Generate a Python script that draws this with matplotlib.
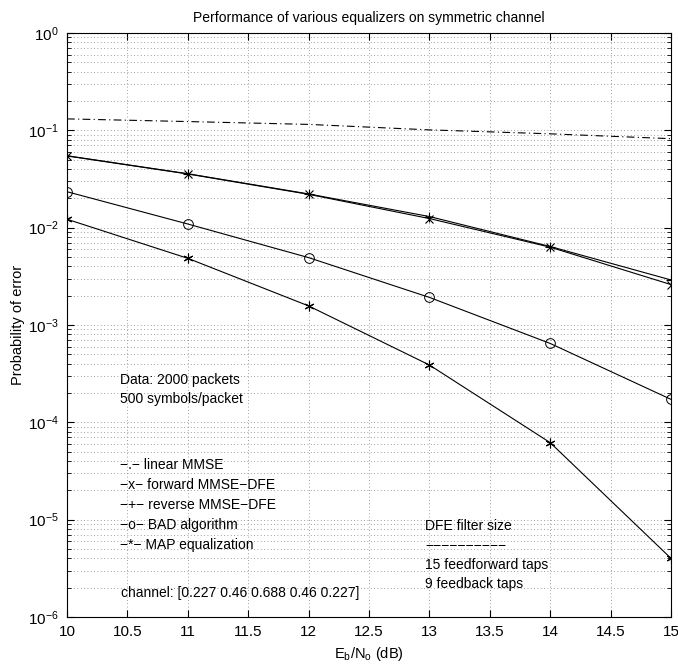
import numpy as np
import matplotlib
matplotlib.use("Agg")
import matplotlib.pyplot as plt
from matplotlib.ticker import LogLocator, FormatStrFormatter, MultipleLocator, NullFormatter

plt.rcParams["font.family"] = ["Liberation Sans", "DejaVu Sans"]
plt.rcParams["font.size"] = 10
plt.rcParams["mathtext.fontset"] = "custom"
plt.rcParams["mathtext.rm"] = "Liberation Sans"

# ----- data -----
ebno = [10, 11, 12, 13, 14, 15]
linear_mmse = [0.131, 0.123, 0.115, 0.101, 0.092, 0.082]
fwd_dfe = [0.0545, 0.0356, 0.0220, 0.0124, 0.0063, 0.0026]
rev_dfe = [0.0548, 0.0358, 0.0222, 0.0130, 0.0064, 0.0029]
bad_alg = [0.0234, 0.0109, 0.00492, 0.00192, 0.000646, 0.000172]
map_eq = [0.0122, 0.00484, 0.00157, 0.000388, 0.0000618, 0.0000040]

legend_lines = ["\u2212.\u2212 linear MMSE", "\u2212x\u2212 forward MMSE\u2212DFE",
                "\u2212+\u2212 reverse MMSE\u2212DFE", "\u2212o\u2212 BAD algorithm",
                "\u2212*\u2212 MAP equalization"]

fig = plt.figure(figsize=(6.78, 6.66), dpi=100)
ax = fig.add_axes([0.0988, 0.0736, 0.8909, 0.8769])

asterisk = (6, 2, 0)
ax.semilogy(ebno, linear_mmse, "k", ls=(0, (7, 3, 1, 3)), lw=0.8)
ax.semilogy(ebno, fwd_dfe, "k-", marker="x", ms=6, mew=0.8, lw=0.8)
ax.semilogy(ebno, rev_dfe, "k-", marker="+", ms=7, mew=0.8, lw=0.8)
ax.semilogy(ebno, bad_alg, "k-", marker="o", mfc="none", ms=7, mew=0.7, lw=0.8)
ax.semilogy(ebno, map_eq, "k-", marker=asterisk, ms=7, mew=0.8, lw=0.8)

ax.set_xlim(10, 15)
ax.set_ylim(1e-6, 1)
ax.xaxis.set_major_locator(MultipleLocator(0.5))
ax.xaxis.set_major_formatter(FormatStrFormatter("%g"))
ax.yaxis.set_major_locator(LogLocator(base=10, numticks=10))
ax.yaxis.set_minor_locator(LogLocator(base=10, subs=np.arange(2, 10), numticks=20))
ax.yaxis.set_minor_formatter(NullFormatter())

ax.grid(True, which="major", ls=(0, (1, 3)), color="0.5", lw=0.6)
ax.grid(True, which="minor", axis="y", ls=(0, (1, 3)), color="0.5", lw=0.6)
ax.tick_params(which="both", direction="in", top=True, right=True, labelsize=11)
ax.tick_params(which="major", length=5, pad=6)
ax.tick_params(which="minor", length=3)
for s in ax.spines.values():
    s.set_linewidth(0.8)

ax.set_title("Performance of various equalizers on symmetric channel", fontsize=10, pad=8)
ax.set_xlabel("E$_\\mathregular{b}$/N$_\\mathregular{o}$ (dB)", fontsize=10.5, labelpad=4)
ax.set_ylabel("Probability of error", fontsize=10.5, labelpad=2)

# annotations placed in figure pixels
def txt(px, py, s):
    fig.text(px / 678, 1 - py / 666, s, ha="left", va="center", fontsize=10)

txt(120, 380, "Data: 2000 packets")
txt(120, 399, "500 symbols/packet")
for i, s in enumerate(legend_lines):
    txt(120, 465 + i * 20, s)
txt(425, 526, "DFE filter size")
txt(425, 546, "\u2212" * 10)
txt(425, 565, "15 feedforward taps")
txt(425, 584, "9 feedback taps")
txt(121, 593, "channel: [0.227 0.46 0.688 0.46 0.227]")

fig.savefig("out.png", dpi=100)
